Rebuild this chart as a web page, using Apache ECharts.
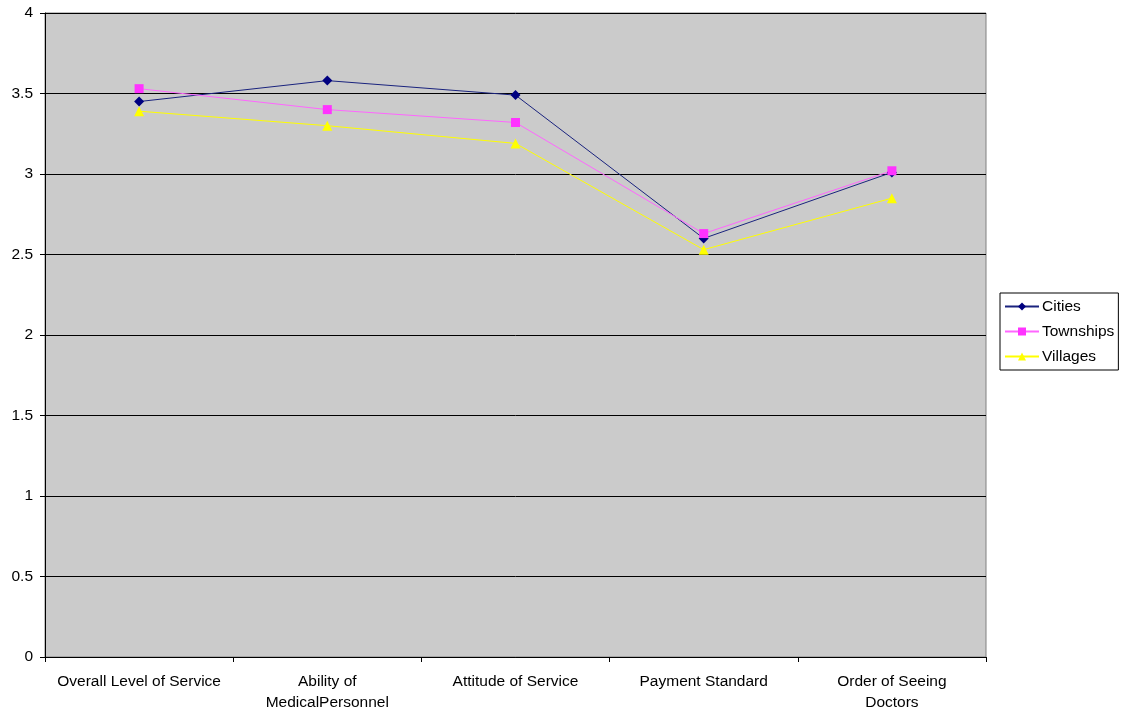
<!DOCTYPE html>
<html>
<head>
<meta charset="utf-8">
<script src="https://cdn.jsdelivr.net/npm/echarts@6/dist/echarts.min.js"></script>
<style>
  html, body { margin: 0; padding: 0; background: #ffffff; }
  #chart { width: 1122px; height: 710px; }
</style>
</head>
<body>
<div id="chart"></div>
<script>
// Satisfaction scores by service aspect, per area type
const categories = [
  'Overall Level of Service',
  'Ability of\nMedicalPersonnel',
  'Attitude of Service',
  'Payment Standard',
  'Order of Seeing\nDoctors'
];
const cities = [3.45, 3.58, 3.49, 2.60, 3.01];
const townships = [3.53, 3.40, 3.32, 2.63, 3.02];
const villages = [3.39, 3.30, 3.19, 2.53, 2.85];

const font = 'Liberation Sans, Arial, sans-serif';

const chart = echarts.init(document.getElementById('chart'), null, { renderer: 'canvas' });

function lineSeries(name, data, lineColor, markColor, symbol, size) {
  return {
    name: name,
    type: 'line',
    data: data,
    symbol: symbol,
    symbolSize: size,
    lineStyle: { color: lineColor, width: 1 },
    itemStyle: { color: markColor },
    emphasis: { disabled: true },
    animation: false
  };
}

chart.setOption({
  animation: false,
  grid: {
    left: 45, top: 13, right: 136, bottom: 53,
    outerBoundsMode: 'none',
    containLabel: false,
    show: true,
    backgroundColor: '#cbcbcb',
    borderColor: '#808080',
    borderWidth: 1
  },
  legend: {
    orient: 'vertical',
    left: 1000, top: 293,
    padding: [5, 4, 5, 4],
    itemGap: 8,
    itemWidth: 34,
    itemHeight: 10,
    borderColor: '#000000',
    borderWidth: 1,
    backgroundColor: '#ffffff',
    textStyle: {
      fontFamily: font, fontSize: 15.5, color: '#000000',
      lineHeight: 17, padding: [0, 0, 0, -2]
    },
    data: ['Cities', 'Townships', 'Villages']
  },
  xAxis: {
    type: 'category',
    data: categories,
    boundaryGap: true,
    axisLine: { show: true, lineStyle: { color: '#000000', width: 1 } },
    axisTick: { show: true, alignWithLabel: false, length: 5, lineStyle: { color: '#000000' } },
    axisLabel: {
      fontFamily: font, fontSize: 15.5, color: '#000000',
      margin: 14, lineHeight: 21, interval: 0
    },
    splitLine: { show: false }
  },
  yAxis: {
    type: 'value',
    min: 0, max: 4, interval: 0.5,
    axisLine: { show: true, lineStyle: { color: '#000000', width: 1 } },
    axisTick: { show: true, length: 5, lineStyle: { color: '#000000' } },
    axisLabel: { fontFamily: font, fontSize: 15.5, color: '#000000', margin: 12 },
    splitLine: { show: true, lineStyle: { color: '#000000', width: 1 } }
  },
  series: [
    lineSeries('Cities', cities, '#1a237e', '#000080', 'diamond', 10),
    lineSeries('Townships', townships, '#ff66ff', '#ff33ff', 'rect', 9),
    lineSeries('Villages', villages, '#ffff00', '#ffff00', 'triangle', 10)
  ]
});
</script>
</body>
</html>
